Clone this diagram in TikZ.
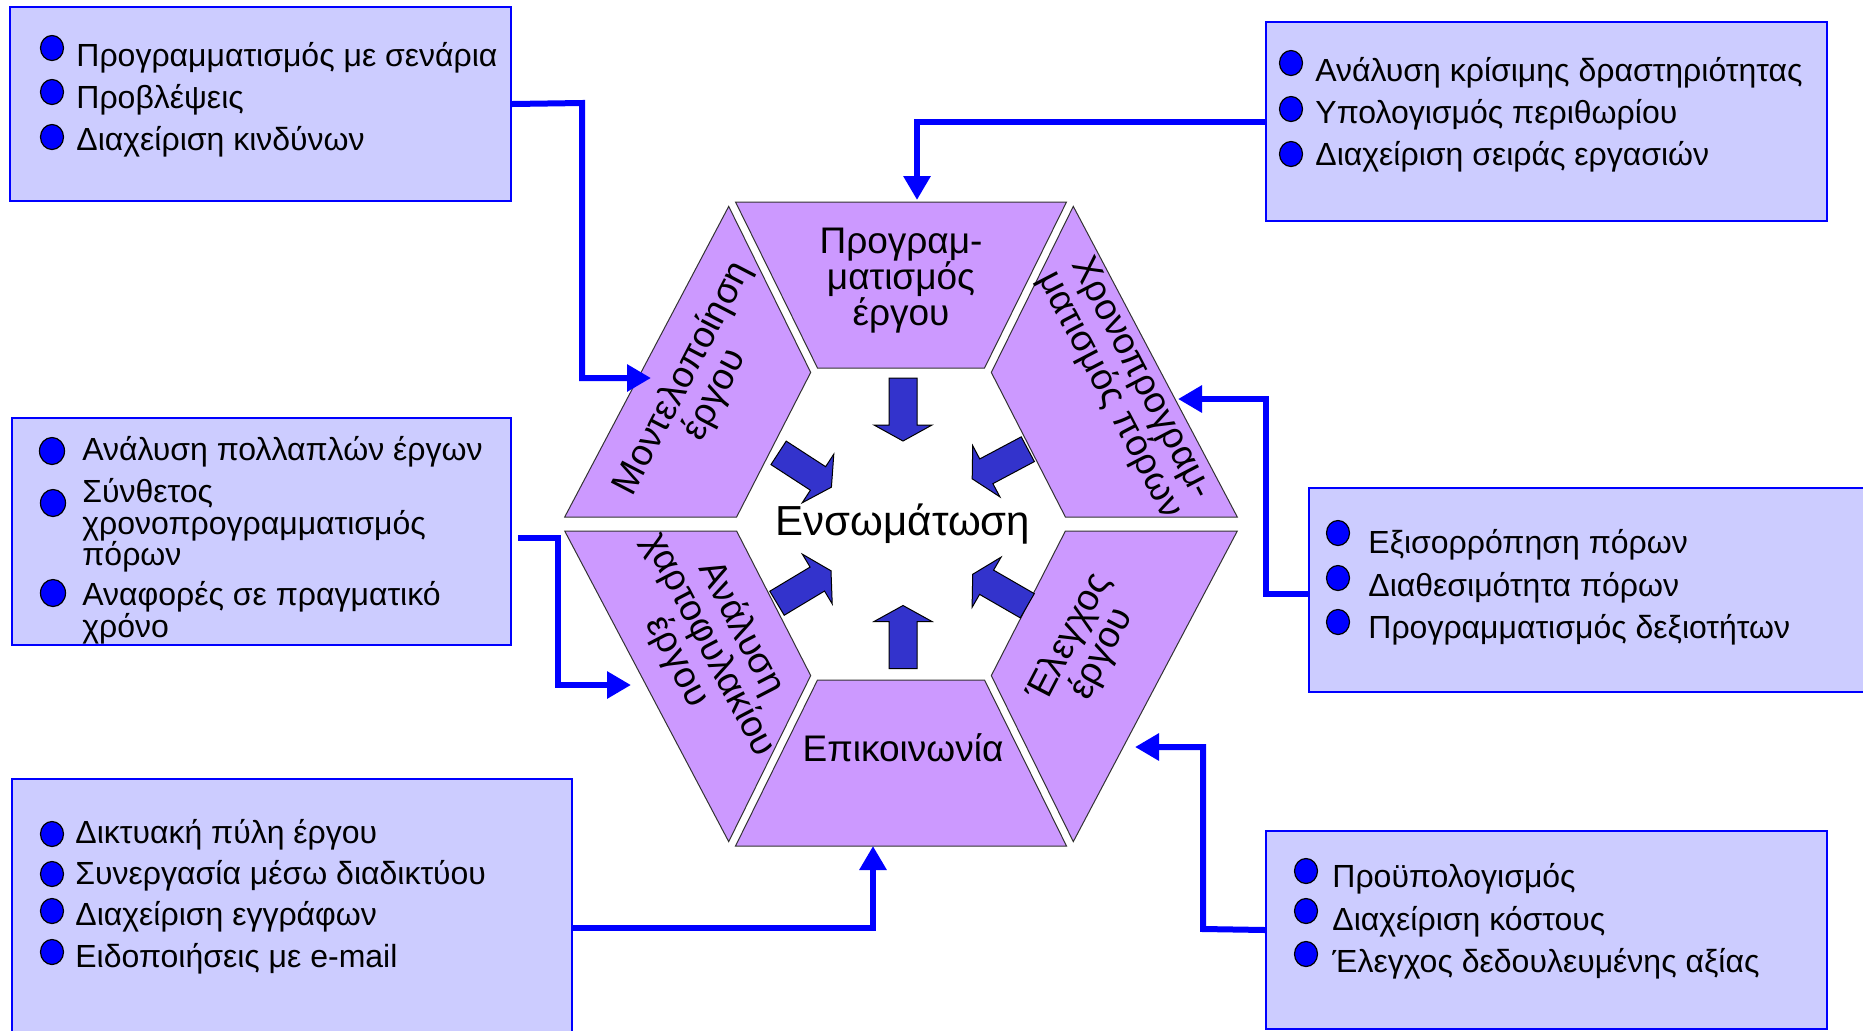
\documentclass[tikz,border=0pt]{standalone}
\usepackage{fontspec}
\setmainfont{Liberation Sans}
\usetikzlibrary{arrows.meta,shapes.geometric}
\definecolor{boxfill}{HTML}{CCCCFF}
\definecolor{piecefill}{HTML}{CC99FF}
\definecolor{arrowfill}{HTML}{3333CC}
\definecolor{linkblue}{HTML}{0000FF}
% name, bullet x, bullet y, text x, baseline, text
\newcommand\bitem[6]{\node[bdot] (#1d) at (#2,#3) {};\node[itemtext] (#1t) at (#4,#5) {#6};}
\newcommand\blockarrow[3]{\begin{scope}[shift={(#1,#2)},rotate=#3]\filldraw[inarrow] (-31.5,-14) -- (15.5,-14) -- (15.5,-29) -- (31.5,0) -- (15.5,29) -- (15.5,14) -- (-31.5,14) -- cycle;\end{scope}}
\begin{document}
\begin{tikzpicture}[x=0.5pt,y=-0.5pt,
  infobox/.style={draw=linkblue, line width=1pt, fill=boxfill, inner sep=0pt, anchor=north west},
  bdot/.style={ellipse, draw=black, line width=0.6pt, fill=linkblue, minimum width=11.5pt, minimum height=12.5pt, inner sep=0pt},
  bdotbig/.style={bdot, minimum width=12.5pt, minimum height=13.5pt},
  itemtext/.style={anchor=base west, inner sep=0pt, font=\fontsize{16pt}{18pt}\selectfont},
  piece/.style={fill=piecefill, draw=black!80, line width=0.5pt},
  piecetext/.style={font=\fontsize{18.5pt}{18pt}\selectfont, align=center, inner sep=0pt},
  link/.style={draw=linkblue, line width=3pt, -{Triangle[length=12pt,width=13pt]}},
  inarrow/.style={fill=arrowfill, draw=black, line width=0.5pt}
]
\useasboundingbox (0,0) rectangle (1863,1030);
\clip (0,0) rectangle (1863,1030);
\fill[white] (0,0) rectangle (1863,1030);

% ---------- info boxes ----------
\node[infobox, minimum width=250.5pt, minimum height=97pt] (boxA) at (9,6) {};
\node[infobox, minimum width=280.5pt, minimum height=99.5pt] (boxB) at (1265,21) {};
\node[infobox, minimum width=249.5pt, minimum height=113.5pt] (boxC) at (11,417) {};
\node[infobox, minimum width=285pt, minimum height=102pt] (boxD) at (1308,487) {};
\node[infobox, minimum width=280pt, minimum height=131pt] (boxE) at (11,778) {};
\node[infobox, minimum width=280.5pt, minimum height=99pt] (boxF) at (1265,830) {};

% box A
\bitem{a1}{52}{48}{76}{66}{Προγραμματισμός με σενάρια}
\bitem{a2}{52}{92}{76}{108}{Προβλέψεις}
\bitem{a3}{52}{137}{76}{150}{Διαχείριση κινδύνων}
% box B
\bitem{b1}{1291}{63}{1315}{81}{Ανάλυση κρίσιμης δραστηριότητας}
\bitem{b2}{1291}{109}{1315}{123}{Υπολογισμός περιθωρίου}
\bitem{b3}{1291}{154}{1315}{165}{Διαχείριση σειράς εργασιών}
% box C
\node[bdotbig] (c1d) at (52,451) {};
\node[itemtext] (c1t) at (82,460) {Ανάλυση πολλαπλών έργων};
\node[bdotbig] (c2d) at (53,503) {};
\node[itemtext] (c2t) at (82,502) {Σύνθετος};
\node[itemtext] (c2u) at (82,534) {χρονοπρογραμματισμός};
\node[itemtext] (c2v) at (82,565) {πόρων};
\node[bdotbig] (c3d) at (53,593) {};
\node[itemtext] (c3t) at (82,605) {Αναφορές σε πραγματικό};
\node[itemtext] (c3u) at (82,637) {χρόνο};
% box D
\bitem{d1}{1338}{533}{1368}{553}{Εξισορρόπηση πόρων}
\bitem{d2}{1338}{578}{1368}{596}{Διαθεσιμότητα πόρων}
\bitem{d3}{1338}{622}{1368}{638}{Προγραμματισμός δεξιοτήτων}
% box E
\bitem{e1}{52}{834}{75}{843}{Δικτυακή πύλη έργου}
\bitem{e2}{52}{874}{75}{884}{Συνεργασία μέσω διαδικτύου}
\bitem{e3}{52}{911}{75}{925}{Διαχείριση εγγράφων}
\bitem{e4}{52}{952}{75}{967}{Ειδοποιήσεις με e-mail}
% box F
\bitem{f1}{1306}{871}{1332}{887}{Προϋπολογισμός}
\bitem{f2}{1306}{911}{1332}{930}{Διαχείριση κόστους}
\bitem{f3}{1306}{954}{1332}{972}{Έλεγχος δεδουλευμένης αξίας}

% ---------- hexagon pieces ----------
\filldraw[piece] (735.5,202) -- (1066.5,202) -- (984.5,368) -- (817.5,368) -- cycle;
\filldraw[piece] (728.7,206.4) -- (810.7,372.4) -- (736.6,517) -- (564.7,517) -- cycle;
\filldraw[piece] (1073.3,206.4) -- (1237.3,517) -- (1065.4,517) -- (991.3,372.4) -- cycle;
\filldraw[piece] (564.7,531) -- (736.6,531) -- (810.7,675.6) -- (728.7,841.6) -- cycle;
\filldraw[piece] (1065.4,531) -- (1237.3,531) -- (1073.3,841.6) -- (991.3,675.6) -- cycle;
\filldraw[piece] (817.5,680) -- (984.5,680) -- (1066.5,846) -- (735.5,846) -- cycle;

\node[piecetext] (ptop) at (901,281) {Προγραμ-\\ματισμός\\έργου};
\node[piecetext, rotate=62.5] (ptl) at (699,387) {Μοντελοποίηση\\έργου};
\node[piecetext, rotate=-62.5] (ptr) at (1125,387) {Χρονοπρογραμ-\\ματισμός πόρων};
\node[piecetext, rotate=-62.5] (pbl) at (709,645) {Ανάλυση\\χαρτοφυλακίου\\έργου};
\node[piecetext, rotate=62.5] (pbr) at (1086,646) {Έλεγχος\\έργου};
\node[piecetext] (pbot) at (903,748) {Επικοινωνία};
\node[font=\fontsize{21pt}{24pt}\selectfont, inner sep=0pt] (centre) at (903,524) {Ενσωμάτωση};

% ---------- inner block arrows ----------
\blockarrow{903}{409.5}{-90}
\blockarrow{903}{637}{90}
\blockarrow{805}{470}{-33}
\blockarrow{1000}{464}{-152}
\blockarrow{804}{587}{31}
\blockarrow{1000}{590}{150}

% ---------- connectors ----------
\coordinate (tipA) at (651,378);
\coordinate (tipB) at (917,200);
\coordinate (tipC) at (631,685);
\coordinate (tipD) at (1178,399);
\coordinate (tipE) at (873,846);
\coordinate (tipF) at (1135,747);
\coordinate (bendA) at (582,103);
\coordinate (startC) at (518,538);
\coordinate (bendC) at (558,538);
\coordinate (bendD) at (1266,594);
\coordinate (bendE) at (873,928);
\coordinate (bendF) at (1203,929);

\draw[link] (boxA.east) -- (bendA) |- (tipA);
\draw[link] (boxB.west) -| (tipB);
\draw[link] (startC) -- (bendC) |- (tipC);
\draw[link] (boxD.west |- bendD) -- (bendD) |- (tipD);
\draw[link] (boxE.east |- bendE) -- (bendE) -- (tipE);
\draw[link] (boxF.west) -- (bendF) |- (tipF);
\end{tikzpicture}
\end{document}
